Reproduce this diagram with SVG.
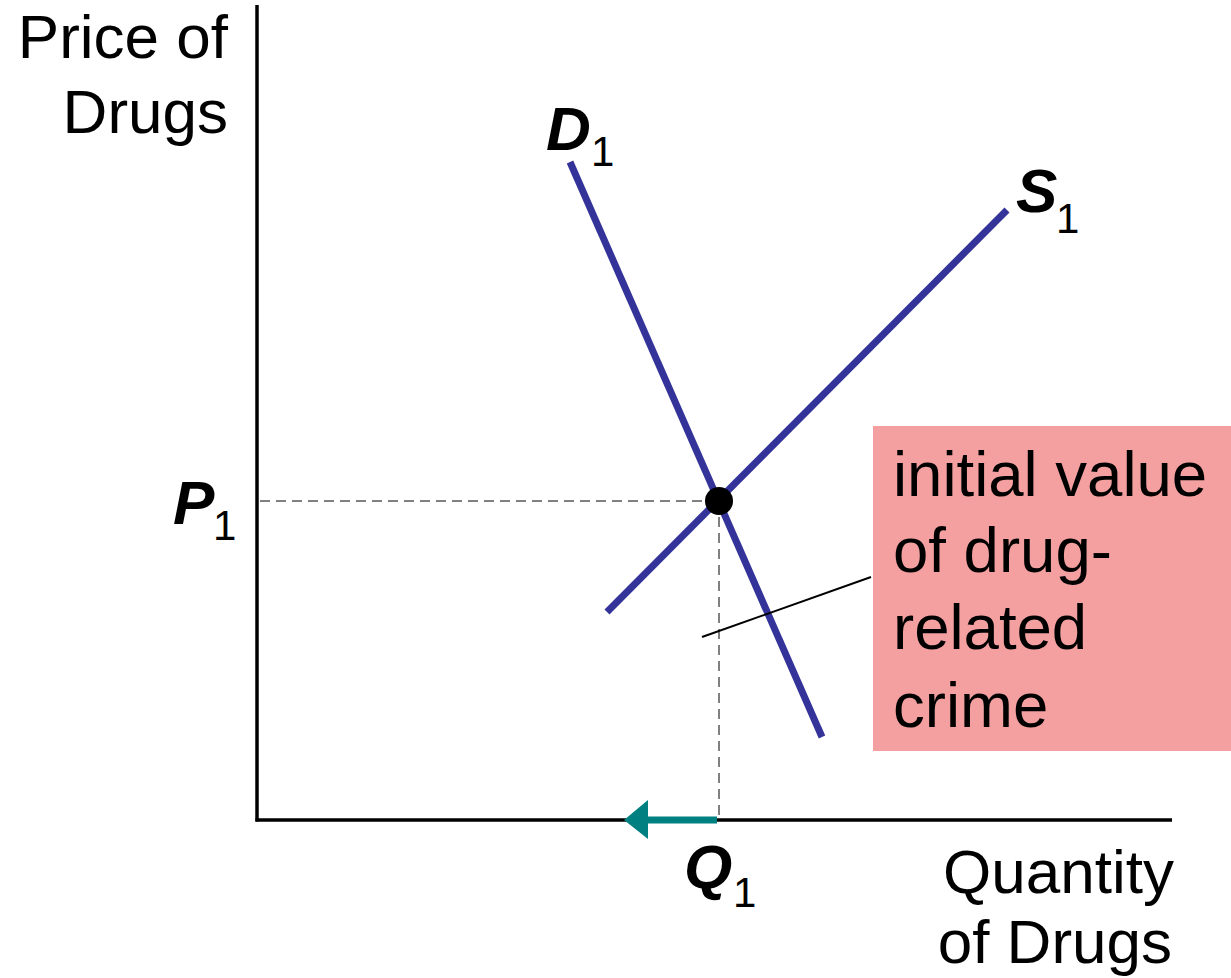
<svg xmlns="http://www.w3.org/2000/svg" width="1231" height="978" viewBox="0 0 1231 978">
<style>
.lbl{font-family:"Liberation Sans",Arial,sans-serif;font-size:62px;fill:#000}
.box{font-family:"Liberation Sans",Arial,sans-serif;font-size:63.5px;fill:#000}
.bi{font-family:"Liberation Sans",Arial,sans-serif;font-size:62px;font-weight:bold;font-style:italic;fill:#000}
.sub{font-family:"Liberation Sans",Arial,sans-serif;font-size:42px;fill:#000}
.curve{stroke:#333399;stroke-width:7;fill:none}
.dash{stroke:#808080;stroke-width:2;stroke-dasharray:10,6;fill:none}
</style>
<rect width="1231" height="978" fill="#fff"/>
<g id="axes">
<line x1="257" y1="5" x2="257" y2="821.5" stroke="#000" stroke-width="3.5"/>
<line x1="255.5" y1="820" x2="1172" y2="820" stroke="#000" stroke-width="3.5"/>
<text class="lbl" x="228" y="58" text-anchor="end">Price of</text>
<text class="lbl" x="228" y="133" text-anchor="end">Drugs</text>
<text class="lbl" x="1174" y="893" text-anchor="end">Quantity</text>
<text class="lbl" x="1172" y="963" text-anchor="end">of Drugs</text>
</g>
<g id="guides">
<line class="dash" x1="260" y1="501" x2="719" y2="501"/>
<line class="dash" x1="719" y1="501" x2="719" y2="818"/>
</g>
<g id="demand">
<line class="curve" x1="570" y1="162" x2="822" y2="737"/>
<text class="bi" x="546" y="150">D</text>
<text class="sub" x="591" y="166">1</text>
</g>
<g id="supply">
<line class="curve" x1="607" y1="612" x2="1007" y2="210"/>
<text class="bi" x="1016" y="212">S</text>
<text class="sub" x="1056" y="233">1</text>
</g>
<g id="equilibrium">
<circle cx="719" cy="501" r="14" fill="#000"/>
</g>
<g id="p1">
<text class="bi" x="173" y="524">P</text>
<text class="sub" x="213" y="540">1</text>
</g>
<g id="q1">
<text class="bi" x="684" y="888">Q</text>
<text class="sub" x="733" y="907">1</text>
</g>
<g id="connectors">
<line x1="702" y1="637" x2="871" y2="577" stroke="#000" stroke-width="2"/>
<polygon points="717,816.5 648,816.5 648,800 624,820 648,839 648,823.5 717,823.5" fill="#008080"/>
</g>
<g id="callout">
<rect x="873" y="426" width="358" height="325" fill="#f4a0a0"/>
<text class="box" x="893" y="496">initial value</text>
<text class="box" x="893" y="572">of drug-</text>
<text class="box" x="893" y="649">related</text>
<text class="box" x="893" y="727">crime</text>
</g>
</svg>
